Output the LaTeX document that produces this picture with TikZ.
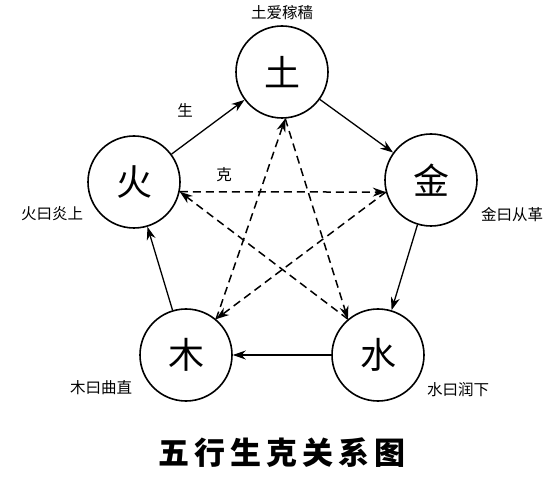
\documentclass[tikz,border=0pt]{standalone}
\usepackage{fontspec}
\newfontfamily\cjk{Noto Sans CJK SC}
\usetikzlibrary{arrows.meta}
\begin{document}
\begin{tikzpicture}[x=1pt,y=-1pt,
  elem/.style={circle,draw,line width=1.6pt,minimum size=92pt,inner sep=0pt,font=\cjk\fontsize{36}{36}\selectfont},
  sheng/.style={line width=1.3pt,-{Stealth[length=13pt,width=9pt]}},
  ke/.style={sheng,line width=1.5pt,dash pattern=on 8pt off 5pt},
  lab/.style={inner sep=0pt,font=\cjk\fontsize{15.5}{15.5}\selectfont},
  ttl/.style={inner sep=0pt,font=\cjk\bfseries\fontsize{31}{31}\selectfont}]
\useasboundingbox (0,0) rectangle (560,481);
\fill[white] (0,0) rectangle (560,481);
\node[elem] (tu) at (282,72) {土};
\node[elem] (jin) at (431,180) {金};
\node[elem] (shui) at (378,355) {水};
\node[elem] (mu) at (186,355) {木};
\node[elem] (huo) at (134,182) {火};
% star vertices on the circles
\coordinate (ptu) at (tu.-86);
\coordinate (pjin) at (jin.195);
\coordinate (pshui) at (shui.130);
\coordinate (pmu) at (mu.50);
\coordinate (phuo) at (huo.-12);
% sheng cycle
\draw[sheng] (huo) -- (tu);
\draw[sheng] (tu) -- (jin);
\draw[sheng] (jin) -- (shui);
\draw[sheng] (shui) -- (mu);
\draw[sheng] (mu) -- (huo);
% ke relations
\draw[ke] (pmu) -- (ptu);
\draw[ke] (ptu) -- (pshui);
\draw[ke] (pshui) -- (phuo);
\draw[ke] (phuo) -- (pjin);
\draw[ke] (pjin) -- (pmu);
% labels
\node[lab] (ltu) at (282,13) {土爱稼穑};
\node[lab] (lhuo) at (52,214) {火曰炎上};
\node[lab] (ljin) at (512,215) {金曰从革};
\node[lab] (lmu) at (101,388) {木曰曲直};
\node[lab] (lshui) at (458,390) {水曰润下};
\node[lab] (lsheng) at (185,110) {生};
\node[lab] (lke) at (224,175) {克};
\node[ttl] (title) at (282,453) {五\kern5pt 行\kern5pt 生\kern5pt 克\kern5pt 关\kern5pt 系\kern5pt 图};
\end{tikzpicture}
\end{document}
